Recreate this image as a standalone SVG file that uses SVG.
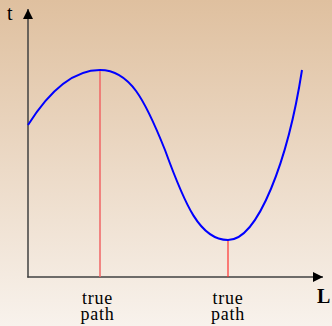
<svg xmlns="http://www.w3.org/2000/svg" width="332" height="326" viewBox="0 0 332 326">
<style>
.lbl{font-family:"Liberation Serif","DejaVu Serif",serif;font-size:18px;letter-spacing:0.8px;fill:#000;text-anchor:middle}
.ax{stroke:#404040;stroke-width:1.5;fill:none}
</style>
<defs>
<linearGradient id="bg" x1="0" y1="0" x2="0" y2="1">
<stop offset="0" stop-color="#dfc09f"/>
<stop offset="1" stop-color="#f8f2ec"/>
</linearGradient>
<marker id="arr" viewBox="0 0 10 10" refX="10" refY="5" markerWidth="15" markerHeight="10" markerUnits="userSpaceOnUse" orient="auto">
<path d="M0,0 L10,5 L0,10 Z" fill="#000"/>
</marker>
</defs>
<rect width="332" height="326" fill="url(#bg)"/>
<g id="axes">
<line class="ax" x1="28" y1="277.5" x2="28" y2="9" marker-end="url(#arr)"/>
<line class="ax" x1="27.3" y1="277" x2="323" y2="277" marker-end="url(#arr)"/>
<text x="7" y="20" style="font-family:'Liberation Serif',serif;font-size:20px">t</text>
<text x="317" y="303" style="font-family:'Liberation Serif',serif;font-size:20px;font-weight:bold">L</text>
</g>
<g id="connectors">
<line x1="100" y1="70" x2="100" y2="277" stroke="#f06464" stroke-width="1.5"/>
<line x1="228" y1="240" x2="228" y2="277" stroke="#ff3030" stroke-width="1.2"/>
<path d="M28,125 C50,90 75,70 100,70 C130,70 145,100 165,150 C185,205 200,240 228,240 C258,240 288,160 302,70" fill="none" stroke="#0000ff" stroke-width="2"/>
</g>
<g id="label1"><text class="lbl" x="97.5" y="304">true</text><text class="lbl" x="97.5" y="319.5">path</text></g>
<g id="label2"><text class="lbl" x="228" y="304">true</text><text class="lbl" x="228" y="319.5">path</text></g>
</svg>
